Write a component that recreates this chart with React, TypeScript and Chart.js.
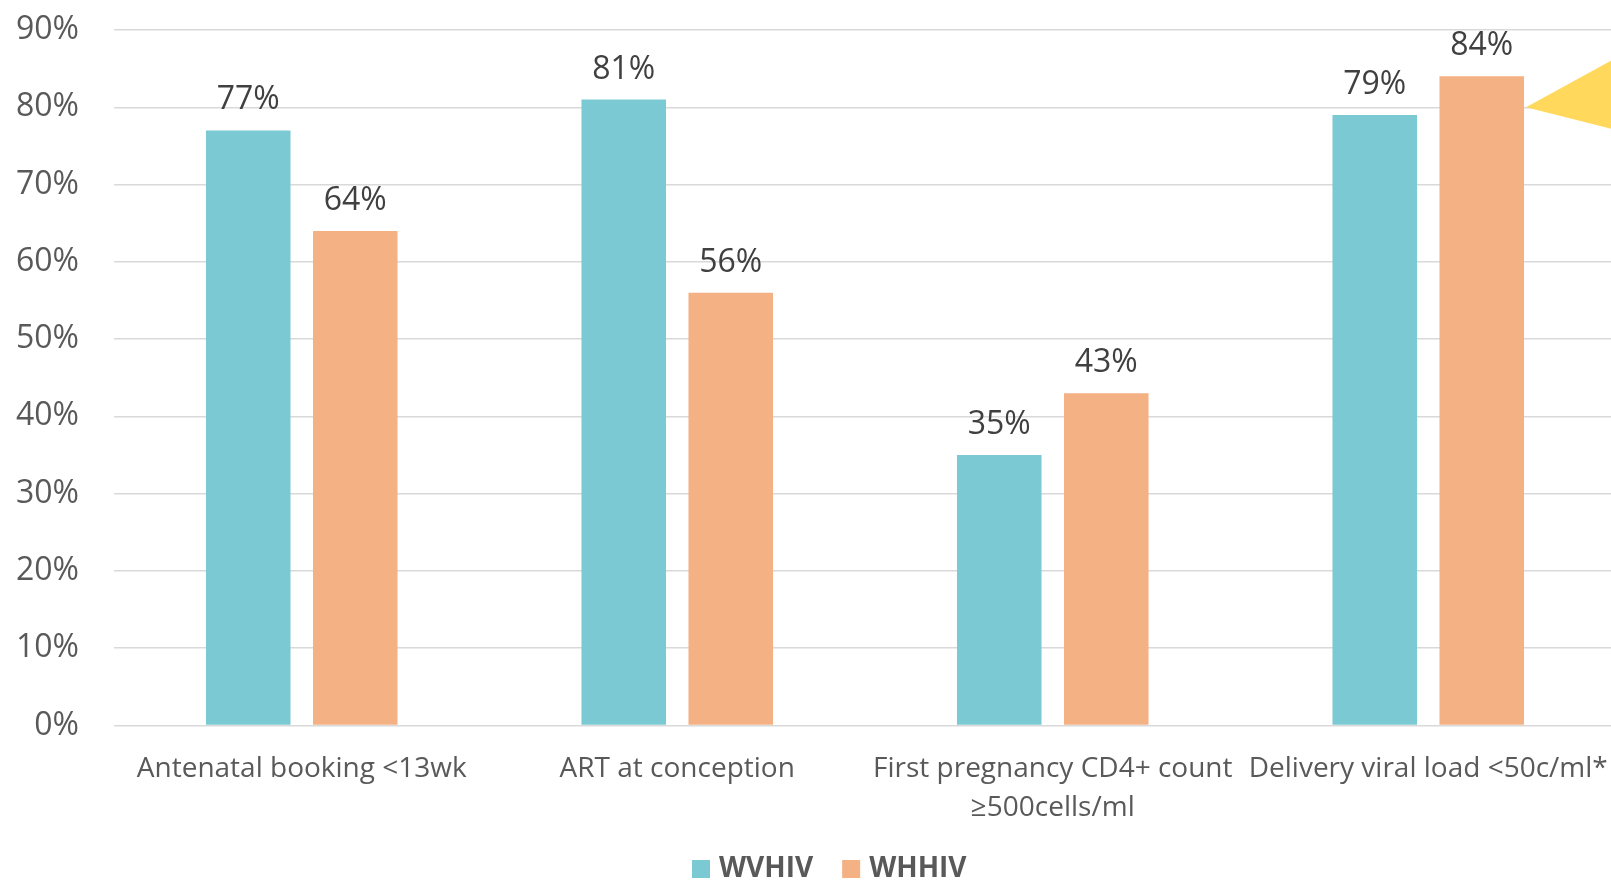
import React, { useEffect, useRef } from "react";
import { Chart, registerables } from "chart.js";

Chart.register(...registerables);

const categories: string[][] = [
  ["Antenatal booking <13wk"],
  ["ART at conception"],
  ["First pregnancy CD4+ count", "≥500cells/ml"],
  ["Delivery viral load <50c/ml*"],
];
const seriesNames = ["WVHIV", "WHHIV"];
const wvhivValues = [77, 81, 35, 79];
const whhivValues = [64, 56, 43, 84];
const seriesColors = ["#7BC9D3", "#F4B183"];
const yMax = 90;
const yStep = 10;

const FONT = "'Open Sans', 'Noto Sans', sans-serif";

const dataLabelPlugin = {
  id: "dataLabels",
  afterDatasetsDraw(chart: any) {
    const ctx = chart.ctx;
    ctx.save();
    ctx.font = `32px ${FONT}`;
    ctx.fillStyle = "#404040";
    ctx.textAlign = "center";
    ctx.textBaseline = "alphabetic";
    chart.data.datasets.forEach((ds: any, i: number) => {
      const meta = chart.getDatasetMeta(i);
      meta.data.forEach((el: any, j: number) => {
        ctx.fillText(`${ds.data[j]}%`, el.x, el.y - 21);
      });
    });
    ctx.restore();
  },
};

const calloutPlugin = {
  id: "callout",
  afterDraw(chart: any) {
    const ctx = chart.ctx;
    const meta = chart.getDatasetMeta(1);
    const el = meta.data[3];
    const y = chart.scales.y.getPixelForValue(80);
    const x0 = el.x + el.width / 2 + 2;
    ctx.save();
    ctx.fillStyle = "#FFD85C";
    ctx.beginPath();
    ctx.moveTo(x0, y);
    ctx.lineTo(x0 + 95, y - 52);
    ctx.lineTo(x0 + 95, y + 24);
    ctx.closePath();
    ctx.fill();
    ctx.restore();
  },
};

const legendPlugin = {
  id: "customLegend",
  afterDraw(chart: any) {
    const ctx = chart.ctx;
    ctx.save();
    ctx.font = `bold 28px ${FONT}`;
    ctx.textBaseline = "alphabetic";
    ctx.textAlign = "left";
    let x = 692;
    chart.data.datasets.forEach((ds: any) => {
      ctx.fillStyle = ds.backgroundColor;
      ctx.fillRect(x, 860, 18, 18);
      ctx.fillStyle = "#595959";
      ctx.fillText(ds.label, x + 27, 877);
      x += 27 + ctx.measureText(ds.label).width + 29;
    });
    ctx.restore();
  },
};

export default function App() {
  const ref = useRef<HTMLCanvasElement>(null);
  useEffect(() => {
    if (!ref.current) return;
    const chart = new Chart(ref.current, {
      type: "bar",
      data: {
        labels: categories,
        datasets: [
          { label: seriesNames[0], data: wvhivValues, backgroundColor: seriesColors[0] },
          { label: seriesNames[1], data: whhivValues, backgroundColor: seriesColors[1] },
        ],
      },
      options: {
        animation: false,
        responsive: false,
        maintainAspectRatio: false,
        datasets: { bar: { categoryPercentage: 0.57, barPercentage: 0.79 } },
        layout: { padding: { top: 30, left: 0, right: 4, bottom: 74.5 } },
        plugins: { legend: { display: false }, tooltip: { enabled: false } },
        scales: {
          x: {
            grid: { display: false },
            border: { display: false },
            ticks: {
              font: { family: FONT, size: 28, lineHeight: 1.4 },
              color: "#595959",
              padding: 16,
              maxRotation: 0,
              autoSkip: false,
            },
            afterFit: (s: any) => {
              s.height = 100;
              s.paddingLeft = 0;
              s.paddingRight = 0;
            },
          },
          y: {
            min: 0,
            max: yMax,
            grid: { color: "#D9D9D9", lineWidth: 1.5, drawTicks: false },
            border: { display: false },
            ticks: {
              stepSize: yStep,
              font: { family: FONT, size: 32 },
              color: "#595959",
              padding: 35,
              callback: (v: any) => `${v}%`,
            },
            afterFit: (s: any) => {
              s.width = 114;
              s.paddingTop = 0;
              s.paddingBottom = 0;
            },
          },
        },
      },
      plugins: [dataLabelPlugin, calloutPlugin, legendPlugin],
    });
    return () => chart.destroy();
  }, []);
  return (
    <div
      style={{
        position: "fixed",
        left: 0,
        top: 0,
        width: 1611,
        height: 880,
        overflow: "hidden",
        background: "#fff",
      }}
    >
      <canvas ref={ref} width={1620} height={900} style={{ display: "block" }} />
    </div>
  );
}
